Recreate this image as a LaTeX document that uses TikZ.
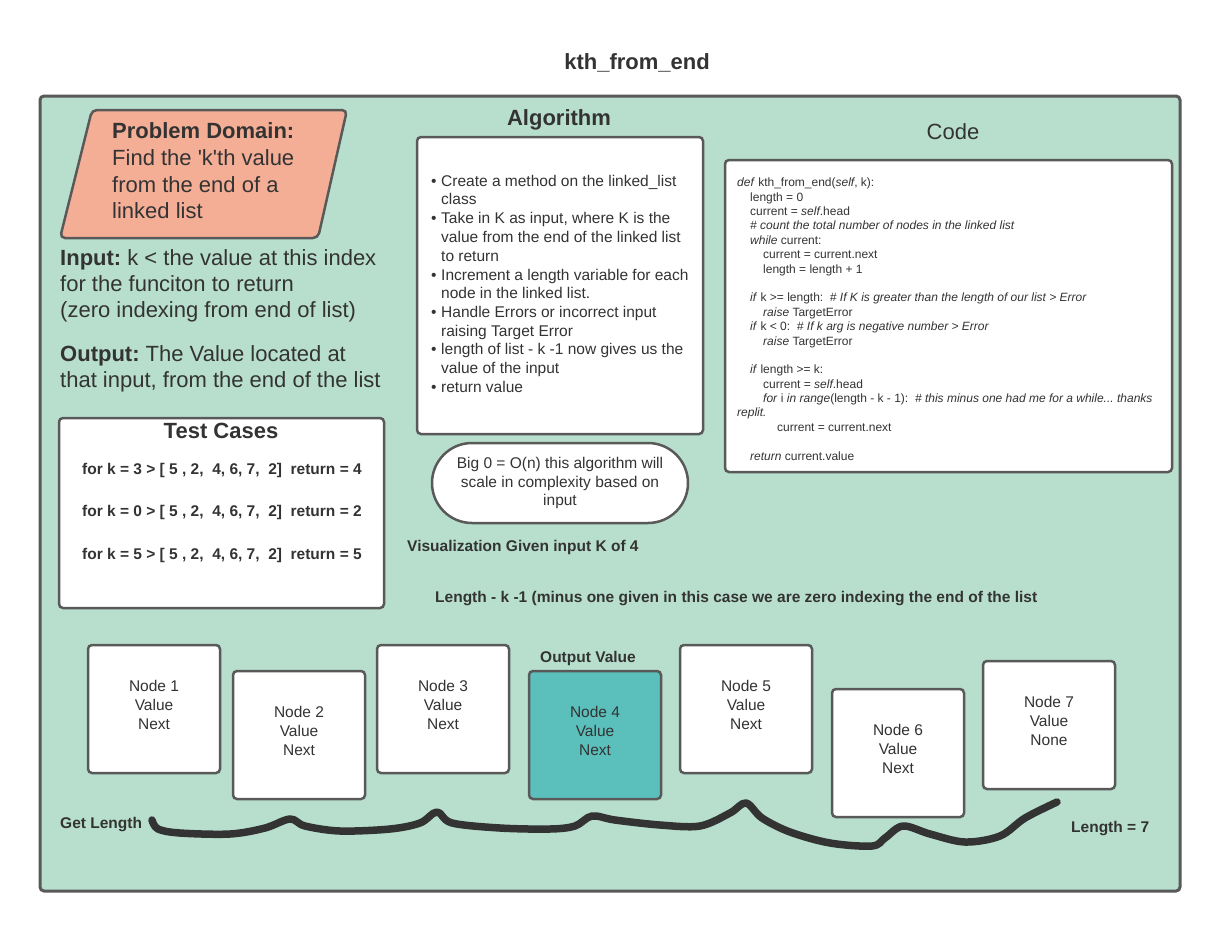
\documentclass[tikz,border=0pt]{standalone}
\usepackage{fontspec}
\setmainfont{Liberation Sans}
\frenchspacing
\definecolor{mint}{HTML}{B8DFCE}
\definecolor{edge}{HTML}{595959}
\definecolor{txt}{HTML}{333333}
\definecolor{salmon}{HTML}{F5AE96}
\definecolor{teal4}{HTML}{5BBFBC}
\tikzset{
  lbl/.style={anchor=base west, text=txt, inner sep=0pt},
  ctr/.style={anchor=base, text=txt, inner sep=0pt},
  fbig/.style={font=\fontsize{22}{26}\selectfont},
  fmid/.style={font=\fontsize{15.5}{19}\selectfont},
  fcode/.style={font=\fontsize{12}{14.4}\selectfont},
  panel/.style={draw=edge, line width=2.5pt, rounded corners=4pt, fill=white},
  llnode/.style={draw=edge, line width=2.5pt, rounded corners=4pt, fill=white, minimum width=132pt, minimum height=128pt, inner sep=0pt},
  lltext/.style={text=txt, align=center, inner sep=0pt, font=\fontsize{15.5}{19}\selectfont},
}
\begin{document}
\begin{tikzpicture}[x=1pt,y=-1pt]
\useasboundingbox[fill=white] (0,0) rectangle (1220,932);
% title
\node[ctr,fbig] (title) at (637,69.5) {\bfseries kth\_from\_end};
% main panel
\draw[fill=mint, draw=edge, line width=3pt, rounded corners=4pt] (40,96) rectangle (1180,891);
% problem domain parallelogram
\draw[fill=salmon, draw=edge, line width=2.5pt, rounded corners=5pt] (92,110) -- (347,110) -- (318,238) -- (60,238) -- cycle;
\node[lbl,fbig] (pd1) at (112,138.5) {\bfseries Problem Domain:};
\node[lbl,fbig] (pd2) at (112,165.5) {Find the \textquotesingle k\textquotesingle th value};
\node[lbl,fbig] (pd3) at (112,192.5) {from the end of a};
\node[lbl,fbig] (pd4) at (112,218.5) {linked list};
% input / output
\node[lbl,fbig] (in1) at (60,265.5) {\textbf{Input:} k < the value at this index};
\node[lbl,fbig] (in2) at (60,291.5) {for the funciton to return};
\node[lbl,fbig] (in3) at (60,317.5) {(zero indexing from end of list)};
\node[lbl,fbig] (out1) at (60,361.5) {\textbf{Output:} The Value located at};
\node[lbl,fbig] (out2) at (60,387.5) {that input, from the end of the list};
% test cases
\draw[panel] (59,418) rectangle (384,608);
\node[ctr,fbig] (tch) at (221,438.5) {\bfseries Test Cases};
\node[lbl,fmid] (tc1) at (82,474.5) {\bfseries for k = 3 > [ 5 , 2,\ \ 4, 6, 7,\ \ 2]\ \ return = 4};
\node[lbl,fmid] (tc2) at (82,516.5) {\bfseries for k = 0 > [ 5 , 2,\ \ 4, 6, 7,\ \ 2]\ \ return = 2};
\node[lbl,fmid] (tc3) at (82,559.5) {\bfseries for k = 5 > [ 5 , 2,\ \ 4, 6, 7,\ \ 2]\ \ return = 5};
% algorithm
\node[ctr,fbig] (algh) at (559,125.5) {\bfseries Algorithm};
\draw[panel] (417,137) rectangle (703,434);
\foreach \y/\b/\t in {181/1/{Create a method on the linked\_list}, 199/0/{class},
  218/1/{Take in K as input, where K is the}, 237/0/{value from the end of the linked list},
  256/0/{to return}, 275/1/{Increment a length variable for each}, 293/0/{node in the linked list.},
  312/1/{Handle Errors or incorrect input}, 331/0/{raising Target Error},
  349/1/{length of list - k -1 now gives us the}, 368/0/{value of the input}, 387/1/{return value}} {
  \node[lbl,fmid] (alg\y) at (441,\y+5.5) {\t};
  \ifnum\b=1 \node[lbl,fmid] (bul\y) at (431,\y+5.5) {\textbullet}; \fi
}
% big O
\draw[panel, rounded corners=40pt] (432,443) rectangle (688,523);
\node[ctr,fmid] (bo1) at (560,468.5) {Big 0 = O(n) this algorithm will};
\node[ctr,fmid] (bo2) at (560,487.5) {scale in complexity based on};
\node[ctr,fmid] (bo3) at (560,505.5) {input};
% code
\node[ctr,fbig] (codeh) at (953,139.5) {Code};
\draw[panel] (725,160) rectangle (1172,472);
\foreach \y/\x/\t in {
  182/737/{\textit{def} kth\_from\_end(\textit{self}, k):},
  197/750/{length = 0},
  211/750/{current = \textit{self}.head},
  225/750/{\textit{\# count the total number of nodes in the linked list}},
  240/750/{\textit{while} current:},
  254/763/{current = current.next},
  269/763/{length = length + 1},
  297/750/{\textit{if} k >= length:\ \ \textit{\# If K is greater than the length of our list > Error}},
  312/763/{\textit{raise} TargetError},
  326/750/{\textit{if} k < 0:\ \ \textit{\# If k arg is negative number > Error}},
  341/763/{\textit{raise} TargetError},
  369/750/{\textit{if} length >= k:},
  384/763/{current = \textit{self}.head},
  398/763/{\textit{for} i \textit{in range}(length - k - 1):\ \ \textit{\# this minus one had me for a while... thanks}},
  412/737/{\textit{replit.}},
  427/777/{current = current.next},
  456/750/{\textit{return} current.value}} {
  \node[lbl,fcode] (code\y) at (\x,\y+4.3) {\t};
}
% visualization labels
\node[lbl,fmid] (vis) at (407,551.5) {\bfseries Visualization Given input K of 4};
\node[lbl,fmid] (lenk) at (435,602.5) {\bfseries Length - k -1 (minus one given in this case we are zero indexing the end of the list};
\node[ctr,fmid] (outv) at (588,662.5) {\bfseries Output Value};
% linked list nodes
\node[llnode] (n1) at (154,709) {};
\node[llnode] (n2) at (299,735) {};
\node[llnode] (n3) at (443,709) {};
\node[llnode, fill=teal4] (n4) at (595,735) {};
\node[llnode] (n5) at (746,709) {};
\node[llnode] (n6) at (898,753) {};
\node[llnode] (n7) at (1049,725) {};
\node[lltext] (t1) at (154,705) {Node 1\\Value\\Next};
\node[lltext] (t2) at (299,731) {Node 2\\Value\\Next};
\node[lltext] (t3) at (443,705) {Node 3\\Value\\Next};
\node[lltext] (t4) at (595,731) {Node 4\\Value\\Next};
\node[lltext] (t5) at (746,705) {Node 5\\Value\\Next};
\node[lltext] (t6) at (898,749) {Node 6\\Value\\Next};
\node[lltext] (t7) at (1049,721) {Node 7\\Value\\None};
% get length squiggle
\node[lbl,fmid] (getlen) at (60,828.5) {\bfseries Get Length};
\node[lbl,fmid] (len7) at (1071,832.5) {\bfseries Length = 7};
\draw[txt, line width=7.5pt, line cap=round, line join=round] plot[smooth, tension=0.55] coordinates {
 (152,820) (158,829) (180,833) (230,834) (265,828) (290,819) (305,826) (340,831)
 (390,829) (420,823) (437,812) (452,823) (500,828) (550,829) (575,826) (592,816)
 (615,820) (660,825) (700,826) (730,813) (746,803) (762,818) (790,832) (830,843)
 (872,846) (885,838) (903,826) (930,834) (965,842) (1000,836) (1025,818) (1057,802)};
\end{tikzpicture}
\end{document}
